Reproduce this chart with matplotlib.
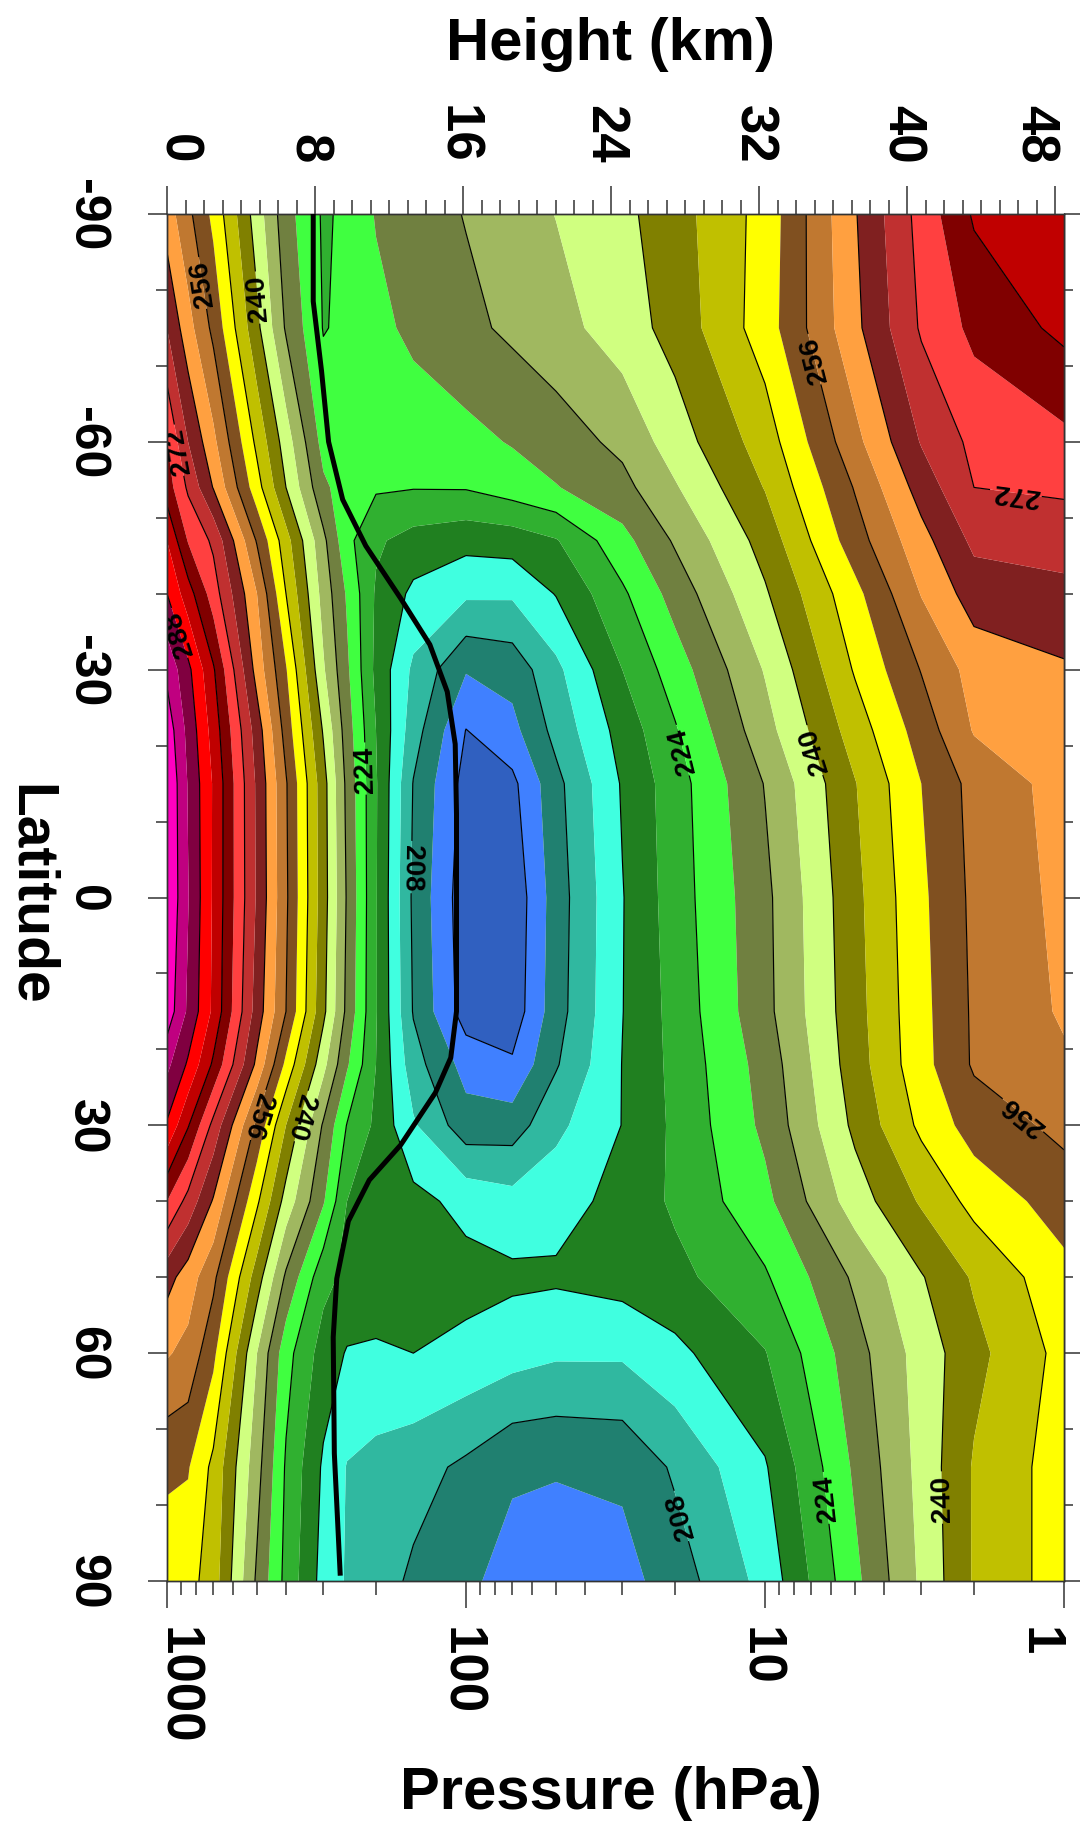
import numpy as np
import matplotlib
matplotlib.use("Agg")
import matplotlib.pyplot as plt
from matplotlib.transforms import ScaledTranslation

plt.rcParams['font.family'] = ['Liberation Sans', 'DejaVu Sans']

pressure = [1000, 850, 700, 500, 400, 300, 250, 200, 150, 100, 70, 50, 30, 20, 10, 5, 3, 2, 1]
latitude = [-90, -75, -60, -54, -47, -40, -30, -22, -15, 0, 15, 22, 30, 40, 50, 60, 75, 90]

t_s90 = [262, 257, 251, 238, 229.5, 223.5, 224.7, 228.3, 230, 232.2, 234.2, 236.1, 239, 242.3, 249.5, 263.7, 273.5, 280.5, 283]
t_s75 = [268, 261.5, 255, 241, 231.5, 223.8, 224.7, 226.8, 229, 231, 232.8, 234.5, 238, 241.5, 250, 263, 272.5, 277, 281]
t_s60 = [276, 268, 261, 247, 238, 226.5, 225.5, 225, 225.5, 226.8, 228.3, 230, 233, 238, 245.9, 258.8, 268.3, 273, 275]
t_s54 = [278, 271.3, 263.8, 249.6, 240, 228.8, 226, 224.5, 224.2, 224.3, 226, 227.8, 230.8, 235.6, 244.2, 256.3, 265.7, 272, 272.7]
t_s47 = [284, 275.7, 271.2, 255.6, 245.6, 233, 225.1, 220.6, 218.5, 217.3, 217.8, 219.7, 226.7, 232.5, 241.6, 254.2, 262.6, 268.9, 269.6]
t_s40 = [288, 281.8, 274, 260, 248, 234.5, 227.5, 219.5, 215.1, 212.7, 212.6, 216.2, 223.3, 229.6, 239.5, 250.8, 260.2, 265.9, 267]
t_s30 = [295, 289, 280.5, 262.4, 252.3, 236.5, 228.7, 219, 211.2, 204.3, 205.5, 211, 220, 226, 236.3, 248.4, 256.2, 261.5, 263.5]
t_s22 = [298.5, 290.8, 282.4, 266.1, 254.4, 239.6, 230, 220, 209.8, 199.9, 202.8, 209.3, 217.6, 223.6, 234.5, 245.9, 253.8, 260.3, 262.5]
t_s15 = [300, 291.7, 283.6, 267.3, 256.4, 241.6, 231, 220.4, 207.8, 198.5, 199, 206.8, 216.4, 222.2, 232.2, 243.8, 252, 257.3, 261.5]
t_eq = [300, 292.2, 283.5, 267.5, 256.7, 241.8, 231.6, 220.3, 207.2, 197.5, 197, 206, 215.8, 222, 231, 242.9, 251.2, 256.9, 261]
t_n15 = [298.5, 291.3, 283.2, 266.2, 256, 241, 231, 220.3, 207.7, 198, 197.5, 206.3, 215.9, 221.4, 230.8, 242.5, 250.8, 256.6, 260.5]
t_n22 = [293, 287.4, 279.3, 263, 251, 237.2, 228.5, 220, 209.7, 202.5, 200.6, 207.6, 216.1, 221.1, 229.6, 242.1, 250.6, 256.5, 259.4]
t_n30 = [287.5, 280.3, 270.8, 255, 244, 231.5, 223.8, 219.2, 212.5, 205.7, 206, 211, 216.1, 220.8, 228.9, 240.9, 248.9, 253.8, 257]
t_n40 = [276, 270.6, 263.6, 248.7, 238.4, 228.4, 220, 218.8, 217.2, 214.8, 213.5, 214.5, 217.2, 220.7, 226.9, 238, 244.5, 249.3, 253.9]
t_n50 = [265.5, 262, 257, 242, 231.3, 221.3, 219, 218.5, 218, 217.4, 216.8, 216.6, 217.6, 218.8, 223.5, 232.7, 239.7, 244.5, 250.8]
t_n60 = [260.4, 258.8, 253, 236, 225.5, 218.2, 215.7, 215.4, 216, 214.9, 213.6, 212.6, 212.6, 215, 219.8, 230.4, 237.7, 242.8, 249.3]
t_n75 = [252.6, 252.3, 247, 233.5, 223.5, 215.4, 211.8, 210.7, 209.5, 207.2, 204.5, 204.3, 204.8, 208.6, 215.6, 228.7, 237.3, 244.4, 250]
t_n90 = [250.2, 249.5, 246, 231.3, 222.8, 214.5, 211.6, 209.8, 207.3, 204.7, 202.7, 202, 202.5, 206, 213.3, 227, 236.7, 244.4, 250]

fill_levels = [196, 200, 204, 208, 212, 216, 220, 224, 228, 232, 236, 240, 244, 248,
               252, 256, 260, 264, 268, 272, 276, 280, 284, 288, 292, 296, 304]
fill_colors = ['#3060C0', '#4080FF', '#208070', '#30B8A0', '#40FFE0', '#208020', '#30B030',
               '#40FF40', '#708040', '#A0B860', '#D0FF80', '#808000', '#C0C000', '#FFFF00',
               '#805020', '#C07830', '#FFA040', '#802020', '#C03030', '#FF4040', '#800000',
               '#C00000', '#FF0000', '#800040', '#C00080', '#FF00C0']
line_levels = [200, 208, 216, 224, 232, 240, 248, 256, 264, 272, 280, 288, 296]

trop_lat = [-90, -78.5, -69.3, -60, -52.4, -46.3, -39.4, -33.3, -27.1, -20.2, -11, 4.3, 15, 21.1, 25.7, 32.6, 37.2, 42.6, 50.2, 57.9, 73.2, 89.3]
trop_km = [7.9, 7.9, 8.35, 8.73, 9.49, 10.74, 12.62, 14.2, 15.14, 15.57, 15.64, 15.64, 15.64, 15.33, 14.5, 12.62, 10.93, 9.8, 9.17, 8.98, 9.04, 9.36]

label_sites = {
    208: [(148, -4), (17.4, 81)],
    224: [(210, -17), (18.4, -19.5), (6.07, 79)],
    240: [(497, -79), (340, 29), (6.7, -19.5), (2.5, 79)],
    256: [(735, -81), (463, 29), (6.65, -71), (1.46, 30)],
    272: [(884, -59), (1.44, -54)],
    288: [(884, -35)],
}

lat_major = [-90, -60, -30, 0, 30, 60, 90]
lat_minor = [-80, -70, -50, -40, -20, -10, 10, 20, 40, 50, 70, 80]
p_major = [1000, 100, 10, 1]
p_minor = [900, 800, 700, 600, 500, 400, 300, 200, 90, 80, 70, 60, 50, 40, 30, 20, 9, 8, 7, 6, 5, 4, 3, 2]
km_major = [0, 8, 16, 24, 32, 40, 48]

W, H = 1081, 1824
fig = plt.figure(figsize=(W / 100, H / 100), dpi=100, facecolor='white')
L, R, T, B = 167, 1064, 215, 1582
ax = fig.add_axes([L / W, 1 - B / H, (R - L) / W, (B - T) / H])

temps = np.array([t_s90, t_s75, t_s60, t_s54, t_s47, t_s40, t_s30, t_s22, t_s15, t_eq, t_n15, t_n22, t_n30, t_n40, t_n50, t_n60, t_n75, t_n90])
logp = np.log10(pressure)
ax.contourf(logp, latitude, temps, levels=fill_levels, colors=fill_colors, antialiased=True)
ax.set_xlim(3, 0)
ax.set_ylim(90, -90)

for lev in line_levels:
    cs = ax.contour(logp, latitude, temps, levels=[lev], colors='black', linewidths=0.85)
    if lev in label_sites:
        pts = [(np.log10(p), la) for p, la in label_sites[lev]]
        texts = ax.clabel(cs, manual=pts, fmt='%d', fontsize=20, inline=True, inline_spacing=3)
        for t in texts:
            t.set_fontweight('bold')
            r = t.get_rotation()
            if r > 0:
                t.set_rotation(r - 180)


def shift(label, px):
    label.set_transform(label.get_transform() + ScaledTranslation(px / 100, 0, fig.dpi_scale_trans))


tick_col = '#333333'
LAB = 38
ax.set_yticks(lat_major)
ax.set_yticks(lat_minor, minor=True)
ax.set_yticklabels([str(v) for v in lat_major], rotation=270, va='center', ha='right', fontweight='bold', fontsize=LAB - 2)
ax.tick_params(axis='y', which='major', length=13.7, width=1.1, color=tick_col, pad=28)
ax.tick_params(axis='y', which='minor', length=8, width=1.1, color=tick_col)

ax.set_xticks(np.log10(p_major))
ax.set_xticks(np.log10(p_minor), minor=True)
ax.set_xticklabels([str(v) for v in p_major], rotation=270, va='top', ha='center', fontweight='bold', fontsize=LAB)
ax.tick_params(axis='x', which='major', length=19.5, width=1.1, color=tick_col, pad=13)
ax.tick_params(axis='x', which='minor', length=10, width=1.1, color=tick_col)
xl = ax.get_xticklabels()
xl[0].set_ha('left')
xl[-1].set_ha('right')
for lab, d in zip(xl, [-15, -6, -6, 0]):
    shift(lab, d)

top = ax.twiny()
top.set_xlim(0, (R - 167.5) / 18.5)
top.set_xticks(km_major)
top.set_xticks(np.arange(0, 49, 1), minor=True)
top.set_xticklabels([str(v) for v in km_major], rotation=270, va='bottom', ha='center', fontweight='bold', fontsize=LAB)
top.tick_params(axis='x', which='major', length=20, width=1.1, color=tick_col, pad=17)
top.tick_params(axis='x', which='minor', length=10, width=1.1, color=tick_col)
tl = top.get_xticklabels()
tl[0].set_ha('left')
tl[-1].set_ha('right')
for lab, d in zip(tl, [-15, -7, -6, -7, -6, -6, 4]):
    shift(lab, d)

right = ax.secondary_yaxis('right')
right.set_yticks(lat_major)
right.set_yticks(lat_minor, minor=True)
right.set_yticklabels([])
right.tick_params(which='major', length=11.5, width=1.1, color=tick_col)
right.tick_params(which='minor', length=6.5, width=1.1, color=tick_col)

top.plot(trop_km, trop_lat, color='black', lw=3.6, solid_capstyle='butt', zorder=6)
top.set_ylim(90, -90)

for a in (ax, top):
    for s in a.spines.values():
        s.set_color(tick_col)
        s.set_linewidth(1.0)
for s in right.spines.values():
    s.set_color(tick_col)
    s.set_linewidth(1.0)

ax.set_ylabel('Latitude', rotation=270, fontsize=41, fontweight='bold', va='center', ha='center')
ax.yaxis.set_label_coords((30 - L) / (R - L), 0.5026)
ax.set_xlabel('Pressure (hPa)', fontsize=43, fontweight='bold', va='center', ha='center')
ax.xaxis.set_label_coords((611 - L) / (R - L), -(1794 - B) / (B - T))
top.set_xlabel('Height (km)', fontsize=43, fontweight='bold', va='center', ha='center')
top.xaxis.set_label_coords((611 - L) / (R - L), (T - 44) / (B - T) + 1)

fig.savefig('out.png', dpi=100, facecolor='white')
